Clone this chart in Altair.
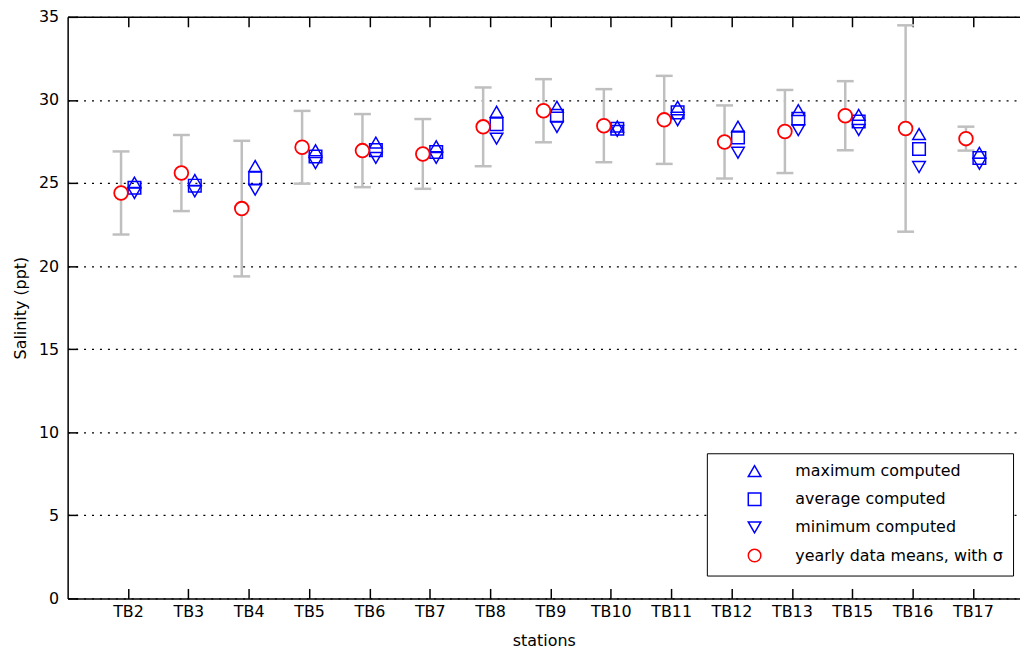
import json
import altair as alt
import pandas as pd

# ---- data ----
stations = ["TB2", "TB3", "TB4", "TB5", "TB6", "TB7", "TB8", "TB9", "TB10",
            "TB11", "TB12", "TB13", "TB15", "TB16", "TB17"]
max_computed = [25.02, 25.18, 26.02, 26.97, 27.43, 27.21, 29.29, 29.59, 28.40,
                29.59, 28.39, 29.39, 29.10, 27.95, 26.81]
avg_computed = [24.71, 24.84, 25.28, 26.60, 26.98, 26.87, 28.54, 29.05, 28.27,
                29.25, 27.74, 28.87, 28.70, 27.05, 26.50]
min_computed = [24.40, 24.50, 24.60, 26.20, 26.51, 26.51, 27.67, 28.37, 28.14,
                28.78, 26.82, 28.18, 28.19, 25.96, 26.16]
data_mean = [24.40, 25.60, 23.46, 27.15, 26.95, 26.75, 28.38, 29.35, 28.45,
             28.80, 27.47, 28.10, 29.05, 28.28, 27.67]
data_sigma = [2.50, 2.29, 4.08, 2.19, 2.20, 2.10, 2.37, 1.90, 2.20,
              2.65, 2.20, 2.50, 2.08, 6.21, 0.72]
y_ticks = [0, 5, 10, 15, 20, 25, 30, 35]
series_names = ["maximum computed", "average computed", "minimum computed",
                "yearly data means, with σ"]

idx = list(range(1, len(stations) + 1))

df_obs = pd.DataFrame({
    "idx": idx,
    "station": stations,
    "mean": data_mean,
    "lo": [m - s for m, s in zip(data_mean, data_sigma)],
    "hi": [m + s for m, s in zip(data_mean, data_sigma)],
    "series": series_names[3],
})

rows = []
for name, vals in zip(series_names[:3], [max_computed, avg_computed, min_computed]):
    for i, st, v in zip(idx, stations, vals):
        rows.append({"idx": i, "station": st, "value": v, "series": name})
df_comp = pd.DataFrame(rows)

FONT = "DejaVu Sans"
FS = 16
W, H = 958, 585

x_scale = alt.Scale(domain=[0, 15.78], nice=False, zero=False)
y_scale = alt.Scale(domain=[0, 35], nice=False)
shape_scale = alt.Scale(domain=series_names,
                        range=["triangle-up", "square", "triangle-down", "circle"])
color_scale = alt.Scale(domain=series_names,
                        range=["#0000ff", "#0000ff", "#0000ff", "#ff0000"])

label_expr = json.dumps(stations) + "[datum.value - 1]"

common = dict(labelFont=FONT, labelFontSize=FS, labelColor="black",
              titleFont=FONT, titleFontSize=FS, titleFontWeight="normal",
              titleColor="black")

main_x = alt.Axis(orient="bottom", values=idx, labelExpr=label_expr, ticks=False,
                  tickSize=0, domain=True, domainColor="black", domainWidth=1.5,
                  grid=False, title="stations", labelPadding=5, titlePadding=13,
                  **common)
main_y = alt.Axis(orient="left", values=y_ticks, ticks=False, tickSize=0, grid=True,
                  gridDash=[2, 6], gridColor="black", gridWidth=1.3, gridOpacity=1,
                  domain=True, domainColor="black", domainWidth=1.5,
                  title="Salinity (ppt)", labelPadding=9, titlePadding=10, **common)
inner_bottom_ticks = alt.Axis(orient="top", offset=-H, values=idx, labels=False,
                              ticks=True, tickSize=10, tickColor="black", tickWidth=1.5,
                              domain=False, grid=False, title=None)
inner_left_ticks = alt.Axis(orient="right", offset=-W, values=y_ticks, labels=False,
                            ticks=True, tickSize=10, tickColor="black", tickWidth=1.5,
                            domain=False, grid=False, title=None)
top_frame = alt.Axis(orient="bottom", offset=-H, values=idx, labels=False,
                     ticks=True, tickSize=10, tickColor="black", tickWidth=1.5,
                     domain=True, domainColor="black", domainWidth=1.5,
                     grid=False, title=None)

legend = alt.Legend(title=None, orient="none", legendX=643, legendY=439,
                    padding=10, strokeColor="black", fillColor="white",
                    cornerRadius=0, symbolOffset=30, labelOffset=33, rowPadding=9.3,
                    symbolSize=160, symbolStrokeWidth=1.5, labelFont=FONT,
                    labelFontSize=FS, labelColor="black", labelLimit=400)

err_color = "#bfbfbf"

bars = alt.Chart(df_obs).mark_rule(color=err_color, strokeWidth=2.5, xOffset=-7).encode(
    x=alt.X("idx:Q", scale=x_scale, axis=main_x),
    y=alt.Y("lo:Q", scale=y_scale, axis=main_y),
    y2="hi:Q",
)

caps = alt.Chart(df_obs).transform_fold(["lo", "hi"], as_=["end", "v"]).mark_tick(
    orient="horizontal", color=err_color, thickness=2.5, size=17, xOffset=-7, opacity=1
).encode(
    x=alt.X("idx:Q", scale=x_scale, axis=inner_bottom_ticks),
    y=alt.Y("v:Q", scale=y_scale, axis=inner_left_ticks),
)

computed = alt.Chart(df_comp).mark_point(
    filled=False, size=160, strokeWidth=1.5, xOffset=6.5, opacity=1
).encode(
    x=alt.X("idx:Q", scale=x_scale, axis=top_frame),
    y=alt.Y("value:Q", scale=y_scale, axis=None),
    shape=alt.Shape("series:N", scale=shape_scale, legend=legend),
    color=alt.Color("series:N", scale=color_scale, legend=legend),
)

means = alt.Chart(df_obs).mark_point(
    filled=False, fill="white", size=190, strokeWidth=1.8, xOffset=-7, opacity=1
).encode(
    x=alt.X("idx:Q", scale=x_scale, axis=None),
    y=alt.Y("mean:Q", scale=y_scale, axis=None),
    shape=alt.Shape("series:N", scale=shape_scale, legend=legend),
    color=alt.Color("series:N", scale=color_scale, legend=legend),
)

chart = alt.layer(bars, caps, computed, means).resolve_axis(
    x="independent", y="independent"
).properties(
    width=W, height=H,
    background="white",
    autosize=alt.AutoSizeParams(type="none"),
    padding={"left": 60, "top": 7, "right": 0, "bottom": 49},
).configure_view(stroke=None)

chart.save("out.html", embed_options={"renderer": "svg", "actions": False})
